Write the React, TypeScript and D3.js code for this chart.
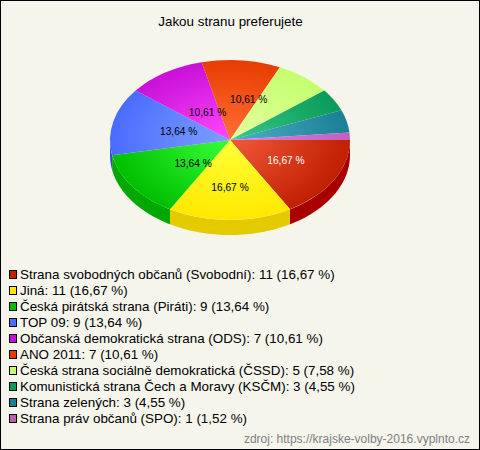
import React, { useMemo } from "react";
import * as d3 from "d3";

const parties = [
  "Strana svobodných občanů (Svobodní)",
  "Jiná",
  "Česká pirátská strana (Piráti)",
  "TOP 09",
  "Občanská demokratická strana (ODS)",
  "ANO 2011",
  "Česká strana sociálně demokratická (ČSSD)",
  "Komunistická strana Čech a Moravy (KSČM)",
  "Strana zelených",
  "Strana práv občanů (SPO)",
];
const votes = [11, 11, 9, 9, 7, 7, 5, 3, 3, 1];
const percents = ["16,67", "16,67", "13,64", "13,64", "10,61", "10,61", "7,58", "4,55", "4,55", "1,52"];
const edgeColors = ["#c01f00", "#ffe800", "#00bf00", "#4a6cff", "#c810d8", "#e83c00", "#c4ff6e", "#0a9a5a", "#1a7f94", "#c060c0"];
const centerColors = ["#f05a3a", "#ffff38", "#38ff38", "#7ca0ff", "#ff48ff", "#ff7038", "#e4ffa0", "#38c888", "#50b0c8", "#e080e0"];
const sideColors = ["#a80000", "#e3cb00", "#00a800", "#3050d0", "#a000b0", "#c03000", "#a0d050", "#008040", "#106070", "#a04fa0"];
const legendColors = ["#c01f00", "#ffe800", "#00bf00", "#4a6cff", "#c810d8", "#e83c00", "#c4ff6e", "#0a9a5a", "#1a7f94", "#c060b0"];

const labelNudgeX = [4, 0, 12, 7, 10, 13];
const labelNudgeY = [0, 7, 0, 0, 6, -1];

const FONT = "'Liberation Sans', Arial, sans-serif";

export default function App() {
  const cx = 230, cy = 140, r = 120, yScale = 2 / 3, depth = 15;
  const arcs = useMemo(
    () =>
      d3.pie<number>().sort(null).startAngle(Math.PI / 2).endAngle(Math.PI / 2 + 2 * Math.PI)(votes),
    []
  );
  const arc = d3.arc<d3.PieArcDatum<number>>().innerRadius(0).outerRadius(r);
  const sy = d3.scaleLinear().domain([0, 1]).range([0, r * yScale]);
  const sx = d3.scaleLinear().domain([0, 1]).range([0, r]);

  const sidePath = (a0: number, a1: number) => {
    const s = Math.max(a0, Math.PI / 2);
    const e = Math.min(a1, (3 * Math.PI) / 2);
    if (e <= s) return null;
    const pts = d3.range(0, 41).map((i) => {
      const a = s + ((e - s) * i) / 40;
      return [cx + sx(Math.sin(a)), cy - sy(Math.cos(a))] as [number, number];
    });
    const top = d3.line()(pts)!;
    const bottom = d3.line()(pts.slice().reverse().map(([x, y]) => [x, y + depth] as [number, number]))!;
    return top + "L" + bottom.slice(1) + "Z";
  };

  return (
    <svg
      width={480}
      height={450}
      style={{ position: "absolute", left: 0, top: 0, display: "block" }}
      fontFamily={FONT}
    >
      <defs>
        {arcs.map((d, i) => (
          <radialGradient key={i} id={`g${i}`} gradientUnits="userSpaceOnUse" cx={0} cy={0} r={r}>
            <stop offset="0" stopColor={centerColors[i]} />
            <stop offset="1" stopColor={edgeColors[i]} />
          </radialGradient>
        ))}
      </defs>
      <rect x={0.5} y={0.5} width={479} height={449} fill="#f5f5ec" stroke="#000" />
      <text x={230.5} y={26} textAnchor="middle" fontSize={13.4} fill="#000">
        Jakou stranu preferujete
      </text>

      {arcs.map((d, i) => {
        const p = sidePath(d.startAngle, d.endAngle);
        return p ? <path key={i} d={p} fill={sideColors[i]} /> : null;
      })}
      <g transform={`translate(${cx},${cy}) scale(1,${yScale})`}>
        {arcs.map((d, i) => (
          <path key={i} d={arc(d)!} fill={`url(#g${i})`} />
        ))}
      </g>
      {arcs.map((d, i) => {
        if (d.data < 7) return null;
        const [lx, ly] = d3.arc<d3.PieArcDatum<number>>().innerRadius(0).outerRadius(r).centroid(d);
        return (
          <text
            key={i}
            x={cx + lx + labelNudgeX[i]}
            y={cy + ly * yScale + labelNudgeY[i] + 4}
            textAnchor="middle"
            fontSize={10.2}
            fill={i === 0 ? "#fff" : "#000"}
          >
            {percents[i]} %
          </text>
        );
      })}

      {parties.map((name, i) => (
        <g key={i}>
          <rect x={9.5} y={270.5 + i * 16} width={7} height={8} fill={legendColors[i]} stroke="#000" />
          <text x={20} y={278.5 + i * 16} fontSize={13.4} fill="#000">
            {`${name}: ${votes[i]} (${percents[i]} %)`}
          </text>
        </g>
      ))}
      <text x={470} y={443} textAnchor="end" fontSize={12} fill="#808080">
        zdroj: https://krajske-volby-2016.vyplnto.cz
      </text>
    </svg>
  );
}
